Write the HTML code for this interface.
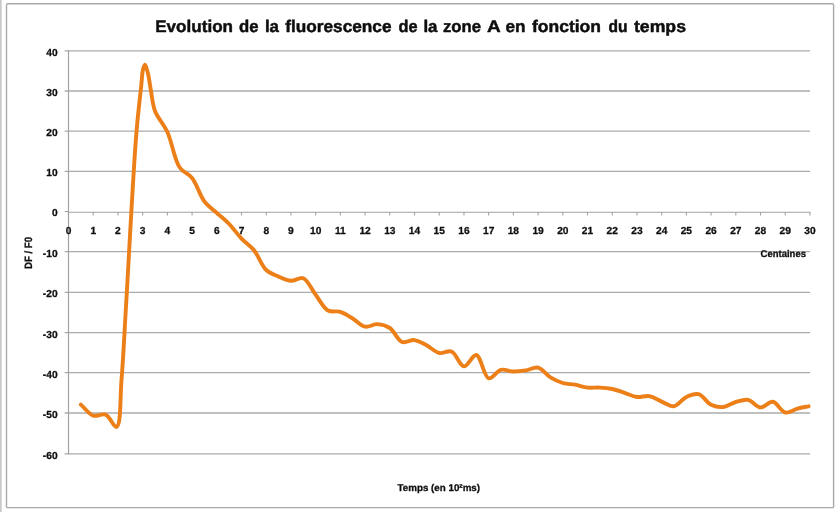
<!DOCTYPE html>
<html lang="fr">
<head>
<meta charset="utf-8">
<title>Evolution de la fluorescence de la zone A en fonction du temps</title>
<style>
html,body{margin:0;padding:0;background:#ffffff;}
body{width:838px;height:512px;overflow:hidden;}
svg{display:block;}
.txt{opacity:0.999;}
text{text-rendering:geometricPrecision;font-family:"Liberation Sans",sans-serif;font-weight:bold;fill:#0c0c0c;stroke:#0c0c0c;stroke-width:0.28px;stroke-linejoin:round;}
.tick{font-size:10.2px;}
.title{font-size:16.8px;fill:#080808;stroke-width:0.45px;}
.axt{font-size:9.8px;}
</style>
</head>
<body>
<svg width="838" height="512" viewBox="0 0 838 512">
<defs><filter id="soft" x="0" y="0" width="838" height="512" filterUnits="userSpaceOnUse"><feGaussianBlur stdDeviation="0.3"/></filter></defs>
<rect x="0" y="0" width="838" height="512" fill="#ffffff"/>
<rect x="0" y="0" width="1.7" height="512" fill="#c9c9c9"/>
<rect x="6.5" y="3.75" width="827.1" height="503.85" rx="1.2" ry="1.2" fill="#ffffff" stroke="#a9a9a9" stroke-width="1.4"/>
<g shape-rendering="geometricPrecision">
<line x1="64.6" y1="50.80" x2="810.0" y2="50.80" stroke="#ababab" stroke-width="1.3"/>
<line x1="64.6" y1="91.00" x2="810.0" y2="91.00" stroke="#ababab" stroke-width="1.3"/>
<line x1="64.6" y1="131.15" x2="810.0" y2="131.15" stroke="#ababab" stroke-width="1.3"/>
<line x1="64.6" y1="171.30" x2="810.0" y2="171.30" stroke="#ababab" stroke-width="1.3"/>
<line x1="64.6" y1="251.60" x2="810.0" y2="251.60" stroke="#ababab" stroke-width="1.3"/>
<line x1="64.6" y1="292.30" x2="810.0" y2="292.30" stroke="#ababab" stroke-width="1.3"/>
<line x1="64.6" y1="332.70" x2="810.0" y2="332.70" stroke="#ababab" stroke-width="1.3"/>
<line x1="64.6" y1="372.70" x2="810.0" y2="372.70" stroke="#ababab" stroke-width="1.3"/>
<line x1="64.6" y1="413.00" x2="810.0" y2="413.00" stroke="#ababab" stroke-width="1.3"/>
<line x1="64.6" y1="453.90" x2="810.0" y2="453.90" stroke="#ababab" stroke-width="1.3"/>
<line x1="64.7" y1="211.55" x2="69.0" y2="211.55" stroke="#a2a2a2" stroke-width="1.1"/>
<line x1="68.5" y1="212.30" x2="810.5" y2="212.30" stroke="#a2a2a2" stroke-width="1.1"/>
<line x1="68.50" y1="50.30" x2="68.50" y2="454.40" stroke="#a2a2a2" stroke-width="1.2"/>
<line x1="68.50" y1="212.30" x2="68.50" y2="215.50" stroke="#a2a2a2" stroke-width="1.1"/>
<line x1="93.22" y1="212.30" x2="93.22" y2="215.50" stroke="#a2a2a2" stroke-width="1.1"/>
<line x1="117.93" y1="212.30" x2="117.93" y2="215.50" stroke="#a2a2a2" stroke-width="1.1"/>
<line x1="142.64" y1="212.30" x2="142.64" y2="215.50" stroke="#a2a2a2" stroke-width="1.1"/>
<line x1="167.36" y1="212.30" x2="167.36" y2="215.50" stroke="#a2a2a2" stroke-width="1.1"/>
<line x1="192.07" y1="212.30" x2="192.07" y2="215.50" stroke="#a2a2a2" stroke-width="1.1"/>
<line x1="216.79" y1="212.30" x2="216.79" y2="215.50" stroke="#a2a2a2" stroke-width="1.1"/>
<line x1="241.50" y1="212.30" x2="241.50" y2="215.50" stroke="#a2a2a2" stroke-width="1.1"/>
<line x1="266.22" y1="212.30" x2="266.22" y2="215.50" stroke="#a2a2a2" stroke-width="1.1"/>
<line x1="290.94" y1="212.30" x2="290.94" y2="215.50" stroke="#a2a2a2" stroke-width="1.1"/>
<line x1="315.65" y1="212.30" x2="315.65" y2="215.50" stroke="#a2a2a2" stroke-width="1.1"/>
<line x1="340.37" y1="212.30" x2="340.37" y2="215.50" stroke="#a2a2a2" stroke-width="1.1"/>
<line x1="365.08" y1="212.30" x2="365.08" y2="215.50" stroke="#a2a2a2" stroke-width="1.1"/>
<line x1="389.80" y1="212.30" x2="389.80" y2="215.50" stroke="#a2a2a2" stroke-width="1.1"/>
<line x1="414.51" y1="212.30" x2="414.51" y2="215.50" stroke="#a2a2a2" stroke-width="1.1"/>
<line x1="439.23" y1="212.30" x2="439.23" y2="215.50" stroke="#a2a2a2" stroke-width="1.1"/>
<line x1="463.94" y1="212.30" x2="463.94" y2="215.50" stroke="#a2a2a2" stroke-width="1.1"/>
<line x1="488.65" y1="212.30" x2="488.65" y2="215.50" stroke="#a2a2a2" stroke-width="1.1"/>
<line x1="513.37" y1="212.30" x2="513.37" y2="215.50" stroke="#a2a2a2" stroke-width="1.1"/>
<line x1="538.09" y1="212.30" x2="538.09" y2="215.50" stroke="#a2a2a2" stroke-width="1.1"/>
<line x1="562.80" y1="212.30" x2="562.80" y2="215.50" stroke="#a2a2a2" stroke-width="1.1"/>
<line x1="587.51" y1="212.30" x2="587.51" y2="215.50" stroke="#a2a2a2" stroke-width="1.1"/>
<line x1="612.23" y1="212.30" x2="612.23" y2="215.50" stroke="#a2a2a2" stroke-width="1.1"/>
<line x1="636.95" y1="212.30" x2="636.95" y2="215.50" stroke="#a2a2a2" stroke-width="1.1"/>
<line x1="661.66" y1="212.30" x2="661.66" y2="215.50" stroke="#a2a2a2" stroke-width="1.1"/>
<line x1="686.38" y1="212.30" x2="686.38" y2="215.50" stroke="#a2a2a2" stroke-width="1.1"/>
<line x1="711.09" y1="212.30" x2="711.09" y2="215.50" stroke="#a2a2a2" stroke-width="1.1"/>
<line x1="735.80" y1="212.30" x2="735.80" y2="215.50" stroke="#a2a2a2" stroke-width="1.1"/>
<line x1="760.52" y1="212.30" x2="760.52" y2="215.50" stroke="#a2a2a2" stroke-width="1.1"/>
<line x1="785.24" y1="212.30" x2="785.24" y2="215.50" stroke="#a2a2a2" stroke-width="1.1"/>
<line x1="809.95" y1="212.30" x2="809.95" y2="215.50" stroke="#a2a2a2" stroke-width="1.1"/>
</g>
<g class="txt" filter="url(#soft)">
<text y="31.8" class="title"><tspan x="155.24" textLength="77.76" lengthAdjust="spacingAndGlyphs">Evolution</tspan> <tspan x="239.00" textLength="19.50" lengthAdjust="spacingAndGlyphs">de</tspan> <tspan x="264.95" textLength="14.05" lengthAdjust="spacingAndGlyphs">la</tspan> <tspan x="285.25" textLength="106.26" lengthAdjust="spacingAndGlyphs">fluorescence</tspan> <tspan x="398.49" textLength="19.03" lengthAdjust="spacingAndGlyphs">de</tspan> <tspan x="423.44" textLength="14.05" lengthAdjust="spacingAndGlyphs">la</tspan> <tspan x="442.97" textLength="38.05" lengthAdjust="spacingAndGlyphs">zone</tspan> <tspan x="486.97" textLength="13.03" lengthAdjust="spacingAndGlyphs">A</tspan> <tspan x="505.45" textLength="20.09" lengthAdjust="spacingAndGlyphs">en</tspan> <tspan x="532.00" textLength="69.00" lengthAdjust="spacingAndGlyphs">fonction</tspan> <tspan x="608.50" textLength="19.04" lengthAdjust="spacingAndGlyphs">du</tspan> <tspan x="633.98" textLength="52.02" lengthAdjust="spacingAndGlyphs">temps</tspan></text>
<text x="57.6" y="55.60" text-anchor="end" class="tick">40</text>
<text x="57.6" y="95.80" text-anchor="end" class="tick">30</text>
<text x="57.6" y="136.15" text-anchor="end" class="tick">20</text>
<text x="57.6" y="176.20" text-anchor="end" class="tick">10</text>
<text x="57.6" y="216.45" text-anchor="end" class="tick">0</text>
<text x="57.6" y="256.60" text-anchor="end" class="tick">-10</text>
<text x="57.6" y="297.20" text-anchor="end" class="tick">-20</text>
<text x="57.6" y="338.00" text-anchor="end" class="tick">-30</text>
<text x="57.6" y="377.60" text-anchor="end" class="tick">-40</text>
<text x="57.6" y="417.90" text-anchor="end" class="tick">-50</text>
<text x="57.6" y="458.80" text-anchor="end" class="tick">-60</text>
<text x="68.50" y="234.4" text-anchor="middle" class="tick">0</text>
<text x="93.22" y="234.4" text-anchor="middle" class="tick">1</text>
<text x="117.93" y="234.4" text-anchor="middle" class="tick">2</text>
<text x="142.64" y="234.4" text-anchor="middle" class="tick">3</text>
<text x="167.36" y="234.4" text-anchor="middle" class="tick">4</text>
<text x="192.07" y="234.4" text-anchor="middle" class="tick">5</text>
<text x="216.79" y="234.4" text-anchor="middle" class="tick">6</text>
<text x="241.50" y="234.4" text-anchor="middle" class="tick">7</text>
<text x="266.22" y="234.4" text-anchor="middle" class="tick">8</text>
<text x="290.94" y="234.4" text-anchor="middle" class="tick">9</text>
<text x="315.65" y="234.4" text-anchor="middle" class="tick">10</text>
<text x="340.37" y="234.4" text-anchor="middle" class="tick">11</text>
<text x="365.08" y="234.4" text-anchor="middle" class="tick">12</text>
<text x="389.80" y="234.4" text-anchor="middle" class="tick">13</text>
<text x="414.51" y="234.4" text-anchor="middle" class="tick">14</text>
<text x="439.23" y="234.4" text-anchor="middle" class="tick">15</text>
<text x="463.94" y="234.4" text-anchor="middle" class="tick">16</text>
<text x="488.65" y="234.4" text-anchor="middle" class="tick">17</text>
<text x="513.37" y="234.4" text-anchor="middle" class="tick">18</text>
<text x="538.09" y="234.4" text-anchor="middle" class="tick">19</text>
<text x="562.80" y="234.4" text-anchor="middle" class="tick">20</text>
<text x="587.51" y="234.4" text-anchor="middle" class="tick">21</text>
<text x="612.23" y="234.4" text-anchor="middle" class="tick">22</text>
<text x="636.95" y="234.4" text-anchor="middle" class="tick">23</text>
<text x="661.66" y="234.4" text-anchor="middle" class="tick">24</text>
<text x="686.38" y="234.4" text-anchor="middle" class="tick">25</text>
<text x="711.09" y="234.4" text-anchor="middle" class="tick">26</text>
<text x="735.80" y="234.4" text-anchor="middle" class="tick">27</text>
<text x="760.52" y="234.4" text-anchor="middle" class="tick">28</text>
<text x="785.24" y="234.4" text-anchor="middle" class="tick">29</text>
<text x="809.95" y="234.4" text-anchor="middle" class="tick">30</text>
<text x="783.3" y="256.8" text-anchor="middle" class="axt" textLength="45.4" lengthAdjust="spacingAndGlyphs">Centaines</text>
<text x="438.8" y="491.4" text-anchor="middle" class="axt" textLength="82.5" lengthAdjust="spacingAndGlyphs">Temps (en 10²ms)</text>
<text transform="translate(32.2,253) rotate(-90)" text-anchor="middle" class="axt" style="font-size:10.6px" textLength="32" lengthAdjust="spacingAndGlyphs">DF / F0</text>
</g>
<path d="M80.86,404.60 C84.98,408.30 88.75,414.21 93.22,415.70 C97.07,416.99 101.89,413.15 105.57,414.60 C109.83,416.28 113.93,427.76 116.60,426.90 C121.11,425.44 120.05,397.58 121.50,380.00 C123.36,357.52 124.35,333.65 126.20,303.00 C128.94,257.60 133.11,173.38 136.30,134.00 C138.02,112.78 140.09,96.74 141.30,85.10 C141.97,78.63 142.02,73.70 142.90,70.00 C143.44,67.74 144.22,64.71 144.90,64.70 C145.55,64.69 146.32,67.73 146.90,69.50 C147.58,71.57 148.04,73.68 148.60,76.40 C149.39,80.24 149.97,85.29 150.90,90.40 C152.03,96.61 152.45,104.31 155.00,111.00 C157.75,118.21 163.60,123.87 167.36,132.00 C172.03,142.09 174.30,159.59 179.72,167.50 C183.28,172.69 188.35,173.35 192.07,178.00 C196.84,183.95 199.72,195.37 204.43,201.50 C208.18,206.38 212.66,209.14 216.79,212.90 C220.90,216.64 225.16,219.90 229.15,224.00 C233.42,228.40 237.24,234.15 241.50,238.60 C245.50,242.77 250.03,245.36 253.86,250.00 C258.39,255.49 261.41,265.49 266.22,270.00 C269.93,273.48 274.38,274.78 278.58,276.60 C282.63,278.36 286.78,280.55 290.94,280.80 C295.02,281.05 299.57,276.79 303.29,278.20 C308.06,280.00 311.49,289.37 315.65,294.80 C319.73,300.13 323.27,307.89 328.01,310.50 C331.74,312.56 336.37,310.56 340.37,311.80 C344.62,313.12 348.66,316.06 352.72,318.50 C356.90,321.01 360.78,325.88 365.08,326.70 C369.05,327.46 373.34,323.90 377.44,324.10 C381.58,324.30 385.99,325.52 389.80,328.00 C394.36,330.97 397.53,340.33 402.15,342.00 C405.93,343.37 410.47,339.57 414.51,340.10 C418.71,340.65 422.82,343.40 426.87,345.50 C431.06,347.68 434.94,352.08 439.23,353.00 C443.20,353.86 447.82,350.01 451.58,351.50 C456.26,353.35 459.67,366.01 463.94,366.30 C467.92,366.57 472.55,354.35 476.30,355.00 C481.00,355.81 483.77,377.10 488.65,378.30 C492.34,379.20 496.69,370.83 501.01,369.80 C504.96,368.86 509.25,371.40 513.37,371.50 C517.48,371.60 521.63,371.04 525.73,370.40 C529.87,369.75 534.17,366.71 538.09,367.60 C542.46,368.59 546.16,374.78 550.44,377.40 C554.42,379.83 558.59,381.78 562.80,383.00 C566.84,384.17 571.06,383.94 575.16,384.70 C579.29,385.47 583.37,387.12 587.51,387.60 C591.61,388.07 595.76,387.37 599.87,387.60 C604.00,387.83 608.15,388.15 612.23,389.00 C616.39,389.87 620.48,391.47 624.59,392.80 C628.72,394.14 632.77,396.47 636.95,397.00 C641.01,397.52 645.27,395.40 649.30,396.10 C653.52,396.84 657.51,399.91 661.66,401.60 C665.75,403.27 670.05,406.78 674.02,406.20 C678.31,405.58 682.03,398.89 686.38,396.90 C690.31,395.10 694.84,393.22 698.73,394.20 C703.15,395.31 706.67,402.70 711.09,404.80 C714.97,406.64 719.39,407.42 723.45,407.00 C727.63,406.56 731.62,403.19 735.80,402.00 C739.86,400.85 744.18,399.14 748.16,399.90 C752.44,400.72 756.33,407.15 760.52,407.40 C764.58,407.64 768.93,401.23 772.88,401.80 C777.21,402.43 780.85,411.59 785.24,412.50 C789.14,413.31 793.56,409.65 797.59,408.60 C801.36,407.62 804.96,407.07 808.65,406.30" fill="none" stroke="#ec7f18" stroke-width="3.9" stroke-linecap="round" stroke-linejoin="round"/>
</svg>
</body>
</html>
